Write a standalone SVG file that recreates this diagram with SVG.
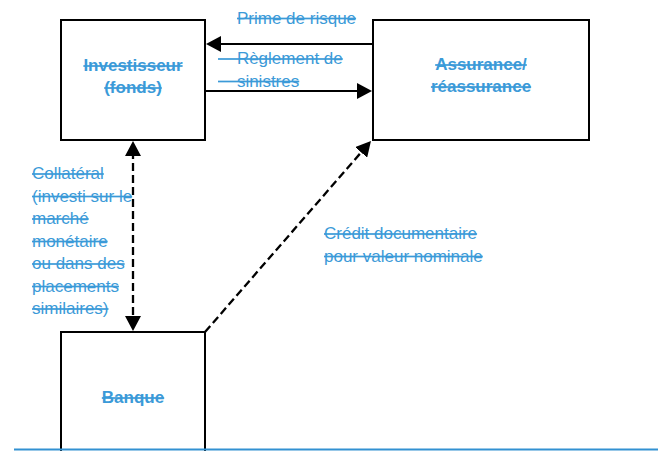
<svg xmlns="http://www.w3.org/2000/svg" width="658" height="451" viewBox="0 0 658 451">
<style>
.box{fill:#fff;stroke:#000;stroke-width:2}
.lbl{font-family:"Liberation Sans",Arial,sans-serif;font-size:17px;fill:#3b9ad8;text-decoration:line-through}
.b{font-weight:bold;text-anchor:middle}
.con{stroke:#000;stroke-width:2;fill:none}
.dash{stroke-dasharray:8 4;stroke-width:2.3}
</style>
<defs>
<marker id="ah" viewBox="0 0 15 16" refX="5" refY="8" markerWidth="15" markerHeight="16" markerUnits="userSpaceOnUse" orient="auto-start-reverse">
<path d="M0,0 L15,8 L0,16 z" fill="#000"/>
</marker>
</defs>
<rect width="658" height="451" fill="#fff"/>
<g id="investisseur">
<rect class="box" x="61" y="20" width="144" height="120"/>
<text class="lbl b" x="133" y="71">Investisseur</text>
<text class="lbl b" x="133" y="93">(fonds)</text>
</g>
<g id="assurance">
<rect class="box" x="373" y="20" width="216" height="120"/>
<text class="lbl b" x="481" y="70">Assurance/</text>
<text class="lbl b" x="481" y="92">réassurance</text>
</g>
<g id="banque">
<rect class="box" x="61" y="332" width="144" height="122"/>
<text class="lbl b" x="133" y="403">Banque</text>
</g>
<g id="connectors">
<line class="con" x1="373" y1="44" x2="216" y2="44" marker-end="url(#ah)"/>
<line class="con" x1="205" y1="91" x2="362" y2="91" marker-end="url(#ah)"/>
<line class="con dash" x1="133" y1="151" x2="133" y2="321" marker-start="url(#ah)" marker-end="url(#ah)"/>
<line class="con dash" x1="205" y1="332" x2="364.4" y2="148.6" marker-end="url(#ah)"/>
</g>
<g id="labels">
<text class="lbl" x="237" y="23.5">Prime de risque</text>
<text class="lbl" x="218" y="64" xml:space="preserve">&#160;&#160;&#160;&#160;Règlement de</text>
<text class="lbl" x="218" y="86.5" xml:space="preserve">&#160;&#160;&#160;&#160;sinistres</text>
<text class="lbl" x="32" y="179">Collatéral</text>
<text class="lbl" x="32" y="201.5">(investi sur le</text>
<text class="lbl" x="32" y="224">marché</text>
<text class="lbl" x="32" y="246.5">monétaire</text>
<text class="lbl" x="32" y="269">ou dans des</text>
<text class="lbl" x="32" y="291.5">placements</text>
<text class="lbl" x="32" y="314">similaires)</text>
<text class="lbl" x="324" y="239">Crédit documentaire</text>
<text class="lbl" x="324" y="261.5">pour valeur nominale</text>
</g>
<line id="baseline" x1="14" y1="449.5" x2="658" y2="449.5" stroke="#3291d2" stroke-width="2"/>
</svg>
